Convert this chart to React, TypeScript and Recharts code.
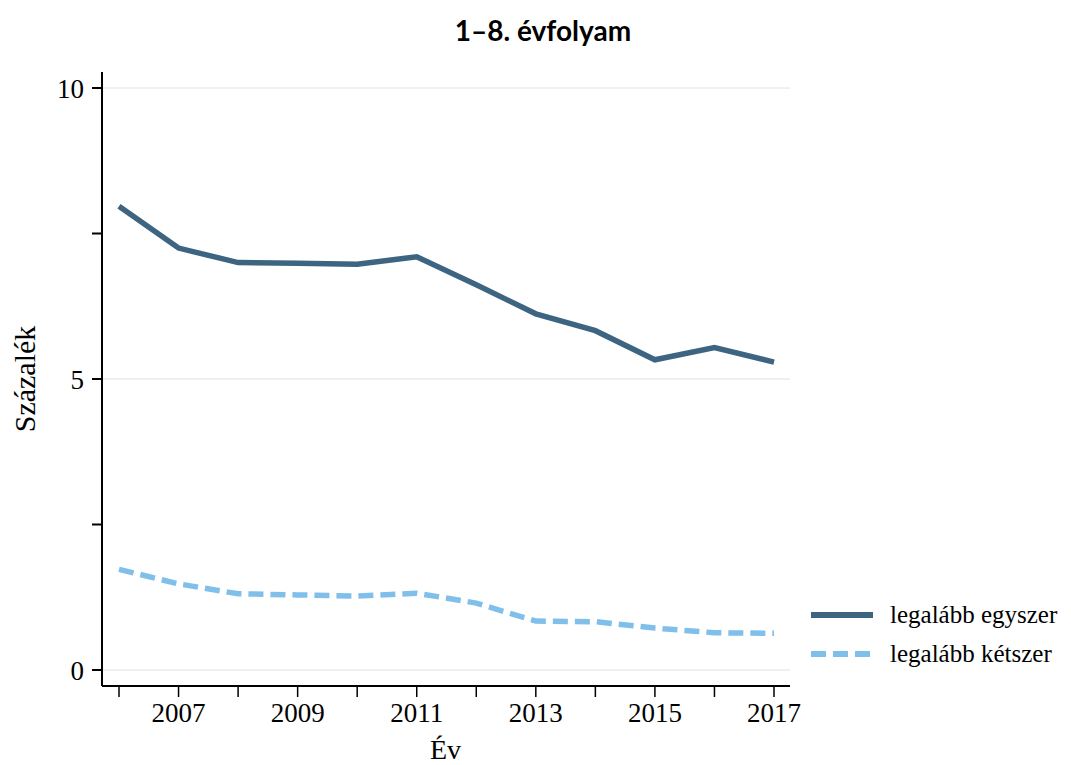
import React from 'react';
import { LineChart, Line, XAxis, YAxis, CartesianGrid, Legend } from 'recharts';

const years = [2006, 2007, 2008, 2009, 2010, 2011, 2012, 2013, 2014, 2015, 2016, 2017];
const legalabbEgyszer = [7.97, 7.25, 7.0, 6.99, 6.97, 7.1, 6.62, 6.12, 5.83, 5.33, 5.54, 5.29];
const legalabbKetszer = [1.73, 1.48, 1.31, 1.29, 1.27, 1.32, 1.15, 0.84, 0.83, 0.72, 0.64, 0.63];
const seriesNames = ['legalább egyszer', 'legalább kétszer'];
const seriesColors = ['#3d6480', '#80bfea'];
const seriesDash = ['', '15 7'];
const xTicks = years;
const xLabelled = [2007, 2009, 2011, 2013, 2015, 2017];
const yTicks = [0, 2.5, 5, 7.5, 10];
const yLabelled = [0, 5, 10];
const gridValues = [0, 5, 10];
const titleText = '1–8. évfolyam';
const xTitle = 'Év';
const yTitle = 'Százalék';

const data = years.map((y, i) => ({
  year: y,
  egyszer: legalabbEgyszer[i],
  ketszer: legalabbKetszer[i],
}));

const SERIF = '"Liberation Serif", "Times New Roman", serif';

const LegendContent = (props: any) => {
  const payload = props.payload || [];
  return (
    <div style={{ fontFamily: SERIF, fontSize: 25, color: '#000' }}>
      {payload.map((p: any, i: number) => (
        <div key={i} style={{ display: 'flex', alignItems: 'center', height: 39 }}>
          <svg width={62} height={8} style={{ display: 'block', flex: '0 0 62px' }}>
            <line x1={0} y1={4} x2={62} y2={4} stroke={seriesColors[i]} strokeWidth={6} strokeDasharray={seriesDash[i] || undefined} />
          </svg>
          <span style={{ marginLeft: 17, whiteSpace: 'nowrap', flex: '0 0 auto' }}>{p.value}</span>
        </div>
      ))}
    </div>
  );
};

export default function App() {
  const W = 1071;
  const H = 765;
  return (
    <div style={{ position: 'relative', width: W, height: H, overflow: 'hidden' }}>
      <style>{'html,body{margin:0;padding:0;overflow:hidden;}'}</style>
      <LineChart
        width={W}
        height={H}
        data={data}
        margin={{ top: 72, right: 281, bottom: 0, left: 8 }}
      >
        <CartesianGrid horizontal={true} vertical={false} horizontalValues={gridValues} stroke="#e0e0e0" strokeWidth={1} />
        <XAxis
          dataKey="year"
          type="number"
          domain={[2006, 2017]}
          ticks={xTicks}
          interval={0}
          padding={{ left: 17, right: 16 }}
          height={79}
          tickSize={11}
          tickMargin={6}
          tickFormatter={(v: number) => (xLabelled.includes(v) ? String(v) : '')}
          tick={{ fontFamily: SERIF, fontSize: 27, fill: '#000' }}
          axisLine={{ stroke: '#000', strokeWidth: 2 }}
          tickLine={{ stroke: '#000', strokeWidth: 1.5 }}
        />
        <XAxis
          xAxisId="top"
          orientation="top"
          type="number"
          domain={[2006, 2017]}
          height={0}
          tick={false}
          tickLine={false}
          axisLine={{ stroke: '#222', strokeWidth: 1.5 }}
        />
        <YAxis
          type="number"
          domain={[0, 10]}
          ticks={yTicks}
          interval={0}
          padding={{ top: 16, bottom: 16 }}
          width={94}
          tickSize={10}
          tickMargin={8}
          tickFormatter={(v: number) => (yLabelled.includes(v) ? String(v) : '')}
          tick={{ fontFamily: SERIF, fontSize: 27, fill: '#000' }}
          axisLine={{ stroke: '#000', strokeWidth: 2 }}
          tickLine={{ stroke: '#000', strokeWidth: 2 }}
        />
        <YAxis
          yAxisId="right"
          orientation="right"
          type="number"
          domain={[0, 10]}
          width={0}
          tick={false}
          tickLine={false}
          axisLine={{ stroke: '#222', strokeWidth: 1.5 }}
        />
        <Legend
          layout="vertical"
          align="center"
          verticalAlign="middle"
          content={<LegendContent />}
          wrapperStyle={{ left: 811, top: 595, width: 255, height: 80, overflow: 'visible' }}
        />
        <Line
          type="linear"
          dataKey="egyszer"
          name={seriesNames[0]}
          stroke={seriesColors[0]}
          strokeWidth={5.5}
          dot={false}
          activeDot={false}
          isAnimationActive={false}
        />
        <Line
          type="linear"
          dataKey="ketszer"
          name={seriesNames[1]}
          stroke={seriesColors[1]}
          strokeWidth={5.5}
          strokeDasharray={seriesDash[1]}
          dot={false}
          activeDot={false}
          isAnimationActive={false}
        />
      </LineChart>
      <div
        style={{
          position: 'absolute',
          left: 543,
          top: 30,
          transform: 'translate(-50%, -50%)',
          fontFamily: 'Lato, "Open Sans", sans-serif',
          fontWeight: 700,
          fontSize: 28,
          lineHeight: 1,
          whiteSpace: 'nowrap',
          color: '#000',
        }}
      >
        {titleText}
      </div>
      <div
        style={{
          position: 'absolute',
          left: 25,
          top: 379,
          transform: 'translate(-50%, -50%) rotate(-90deg)',
          fontFamily: SERIF,
          fontSize: 30,
          lineHeight: 1,
          whiteSpace: 'nowrap',
          color: '#000',
        }}
      >
        {yTitle}
      </div>
      <div
        style={{
          position: 'absolute',
          left: 430,
          top: 740,
          width: 30,
          height: 20,
          textAlign: 'center',
          fontFamily: SERIF,
          fontSize: 28,
          lineHeight: '20px',
          whiteSpace: 'nowrap',
          color: '#000',
        }}
      >
        {xTitle}
      </div>
    </div>
  );
}
